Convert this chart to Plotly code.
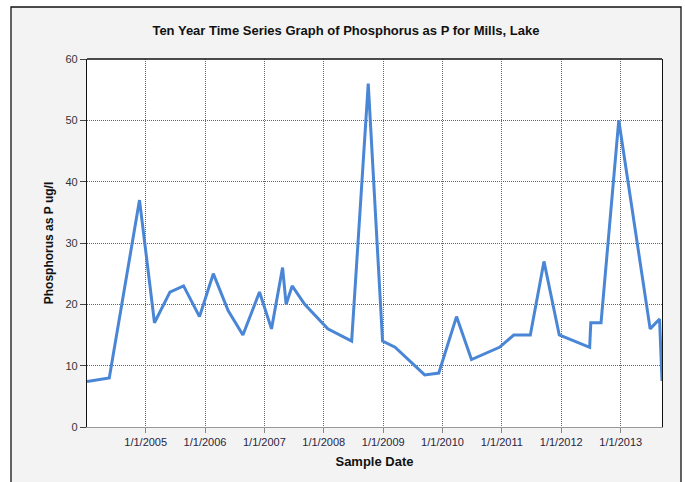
import plotly.graph_objects as go

dates = [
    "2004-01-06", "2004-05-22", "2004-11-24", "2005-02-24", "2005-05-30",
    "2005-08-22", "2005-11-28", "2006-02-21", "2006-05-23", "2006-08-22",
    "2006-12-02", "2007-02-14", "2007-04-23", "2007-05-15", "2007-06-21",
    "2007-09-06", "2008-01-26", "2008-06-21", "2008-10-01", "2008-12-28",
    "2009-03-15", "2009-09-13", "2009-12-09", "2010-03-28", "2010-06-28",
    "2010-12-17", "2011-03-15", "2011-06-25", "2011-09-17", "2011-12-20",
    "2012-06-24", "2012-07-01", "2012-09-02", "2012-12-20", "2013-07-01",
    "2013-08-28", "2013-09-12",
]
phosphorus = [
    7.4, 8, 37, 17, 22,
    23, 18, 25, 19, 15,
    22, 16, 26, 20, 23,
    20, 16, 14, 56, 14,
    13, 8.5, 8.8, 18, 11,
    13, 15, 15, 27, 15,
    13, 17, 17, 50, 16,
    17.6, 7.5,
]
y_ticks = [0, 10, 20, 30, 40, 50, 60]

title_text = "Ten Year Time Series Graph of Phosphorus as P for Mills, Lake"
x_title = "Sample Date"
y_title = "Phosphorus as P ug/l"

W, H = 685, 482
L, R, T, B = 87, 23, 59, 55
pw, ph = W - L - R, H - T - B


def px(x):
    return (x - L) / pw


def py(y):
    return (H - B - y) / ph


fig = go.Figure()
fig.add_trace(go.Scatter(
    x=dates, y=phosphorus, mode="lines",
    line=dict(color="#4a86d6", width=3),
    hoverinfo="x+y",
))

font_family = "Liberation Sans, Arial, sans-serif"

shapes = [
    dict(type="rect", xref="paper", yref="paper", x0=px(-5), x1=px(11), y0=py(H + 5), y1=py(-5),
         fillcolor="white", line=dict(width=0), layer="above"),
    dict(type="rect", xref="paper", yref="paper", x0=px(-5), x1=px(W + 5), y0=py(7), y1=py(-5),
         fillcolor="white", line=dict(width=0), layer="above"),
    dict(type="rect", xref="paper", yref="paper", x0=px(681), x1=px(W + 5), y0=py(H + 5), y1=py(-5),
         fillcolor="white", line=dict(width=0), layer="above"),
    dict(type="rect", xref="paper", yref="paper", x0=px(11), x1=px(681), y0=py(H + 5), y1=py(7),
         fillcolor="rgba(0,0,0,0)", line=dict(color="#111", width=1.3), layer="above"),
    dict(type="line", xref="paper", yref="paper", x0=0, x1=1, y0=1, y1=1,
         line=dict(color="#111", width=1.3), layer="above"),
]

fig.update_layout(
    width=W, height=H,
    margin=dict(l=L, r=R, t=T, b=B),
    paper_bgcolor="#f3f3f3",
    plot_bgcolor="white",
    showlegend=False,
    font=dict(family=font_family, size=11, color="#333"),
    title=dict(text=title_text, x=0.505, xanchor="center", y=1 - 30.5 / H, yanchor="middle",
               font=dict(family=font_family, size=13, color="#111", weight="bold")),
    shapes=shapes,
    xaxis=dict(
        type="date",
        range=[dates[0], dates[-1]],
        tickformat="%-m/%-d/%Y",
        dtick="M12", tick0="2005-01-01",
        showgrid=True, gridcolor="#666", griddash="1px,1px", gridwidth=1,
        showline=True, linecolor="#999", linewidth=1.3,
        ticks="outside", ticklen=5, tickcolor="#888",
        tickfont=dict(size=11, color="#2a2540"),
        title=dict(text=x_title, standoff=9,
                   font=dict(family=font_family, size=13, color="#111", weight="bold")),
        zeroline=False,
    ),
    yaxis=dict(
        range=[0, 60],
        tickvals=y_ticks,
        showgrid=True, gridcolor="#666", griddash="1px,1px", gridwidth=1,
        showline=True, linecolor="#111", linewidth=1.3, mirror=True,
        ticks="outside", ticklen=6, tickcolor="#444",
        tickfont=dict(size=11, color="#333"),
        title=dict(text=y_title, standoff=9,
                   font=dict(family=font_family, size=12, color="#111", weight="bold")),
        zeroline=False,
    ),
)

fig.write_html("out.html", config={"displayModeBar": False},
               post_script="document.body.style.margin='0px';")
